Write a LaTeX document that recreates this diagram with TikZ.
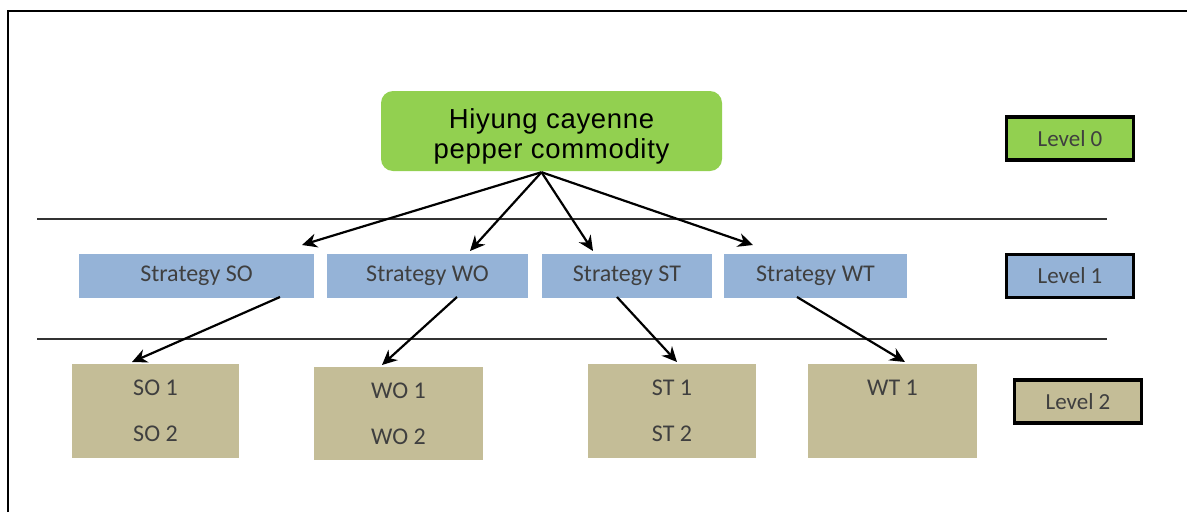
\documentclass[tikz,border=0pt]{standalone}
\usepackage{fontspec}
\setmainfont{Carlito}
\newfontfamily\titlefont[LetterSpace=2.5]{Liberation Sans}
\usetikzlibrary{arrows.meta,calc}
\definecolor{lgreen}{HTML}{92D050}
\definecolor{lblue}{HTML}{95B3D7}
\definecolor{ltan}{HTML}{C4BD97}
\definecolor{txtgray}{HTML}{3F3F3F}
\tikzset{
  stratbox/.style={rectangle, fill=lblue, inner sep=0pt, font=\fontsize{24}{28}\selectfont, text=txtgray},
  subbox/.style={rectangle, fill=ltan, inner sep=0pt, font=\fontsize{24}{46}\selectfont, text=txtgray, align=center},
  levelbox/.style={rectangle, draw=black, line width=3.5pt, inner sep=0pt, minimum width=127pt, minimum height=43pt, font=\fontsize{23}{28}\selectfont, text=txtgray},
  sep/.style={line width=1.6pt, draw=black!80},
  arr/.style={line width=2.2pt, -{Stealth[length=15pt,width=14pt]}},
}
\begin{document}
\begin{tikzpicture}[x=1pt,y=-1pt]
\useasboundingbox (0,0) rectangle (1187,512);
% frame
\draw[line width=1.8pt] (8,512) -- (8,11) -- (1187,11);
% separators
\draw[sep] (37,219) -- (1107,219);
\draw[sep] (37,339) -- (1107,339);
% top
\node[rectangle, rounded corners=12pt, fill=lgreen, minimum width=341pt, minimum height=80pt, inner sep=0pt, font=\titlefont\fontsize{27.5}{30}\selectfont] (top) at (551.5,131) {\raisebox{-12.5pt}[0pt][0pt]{\begin{tabular}{@{}c@{}}Hiyung cayenne\\pepper commodity\end{tabular}}};
% strategies
\node[stratbox, minimum width=235pt, minimum height=44pt] (so) at (196.5,276) {Strategy SO};
\node[stratbox, minimum width=201pt, minimum height=44pt] (wo) at (427.5,276) {Strategy WO};
\node[stratbox, minimum width=170pt, minimum height=44pt] (st) at (627,276) {Strategy ST};
\node[stratbox, minimum width=183pt, minimum height=44pt] (wt) at (815.5,276) {Strategy WT};
% sub boxes
\node[subbox, minimum width=167pt, minimum height=94pt] (so2) at (155.5,411) {SO 1\\SO 2};
\node[subbox, minimum width=169pt, minimum height=93pt] (wo2) at (398.5,413.5) {WO 1\\WO 2};
\node[subbox, minimum width=168pt, minimum height=94pt] (st2) at (672,411) {ST 1\\ST 2};
\node[subbox, minimum width=169pt, minimum height=94pt] (wt2) at (892.5,411) {WT 1\\\phantom{WT 2}};
% levels
\node[levelbox, fill=lgreen] (l0) at (1070,138.5) {Level 0};
\node[levelbox, fill=lblue] (l1) at (1070,276) {Level 1};
\node[levelbox, fill=ltan] (l2) at (1078,401.5) {Level 2};
% connector end points
\coordinate (apex) at ($(top.south)+(-10,1)$);
\coordinate (soT) at (302,245);
\coordinate (woT) at (470,251);
\coordinate (stT) at (593,251);
\coordinate (wtT) at (753,245);
\coordinate (soB) at (280,297);
\coordinate (woB) at (457,297);
\coordinate (stB) at (617,297);
\coordinate (wtB) at (797,297);
\coordinate (so2T) at (132,362);
\coordinate (wo2T) at (382,365);
\coordinate (st2T) at (677,362);
\coordinate (wt2T) at (905,362);
\draw[arr] (apex) -- (soT);
\draw[arr] (apex) -- (woT);
\draw[arr] (apex) -- (stT);
\draw[arr] (apex) -- (wtT);
\draw[arr] (soB) -- (so2T);
\draw[arr] (woB) -- (wo2T);
\draw[arr] (stB) -- (st2T);
\draw[arr] (wtB) -- (wt2T);
\end{tikzpicture}
\end{document}
